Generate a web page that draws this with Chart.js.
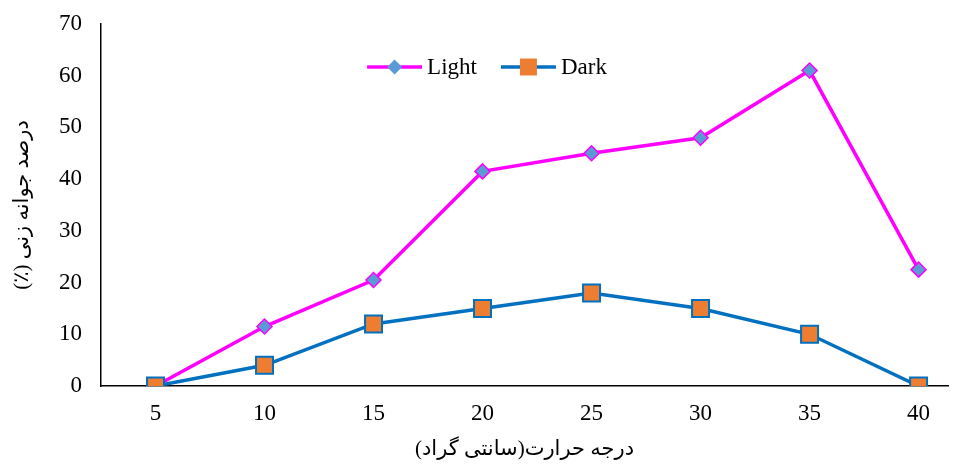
<!doctype html>
<html lang="en">
<head>
  <meta charset="utf-8">
  <title>Germination vs temperature</title>
  <script src="https://cdn.jsdelivr.net/npm/chart.js"></script>
  <style>
    html, body { margin: 0; padding: 0; overflow: hidden; background: #fff; }
    canvas { display: block; }
  </style>
</head>
<body>
  <canvas id="germChart" width="962" height="465"></canvas>

  <script>
    // temperatures (x values) and germination percent per treatment
    const temps = [5, 10, 15, 20, 25, 30, 35, 40];
    const lightVals = [0, 11.5, 20.5, 41.5, 45, 48, 61, 22.5];
    const darkVals = [0, 4, 12, 15, 18, 15, 10, 0];
    const seriesNames = ['Light', 'Dark'];
    const xTitle = 'درجه حرارت(سانتی گراد)';
    const yTitle = '\u2067درصد جوانه زنی (٪)\u2069';

    const serif = "'Liberation Serif', 'Times New Roman', 'DejaVu Sans', serif";

    // legend drawn inside the plot: line + marker like the original
    const lineLegend = {
      id: 'lineLegend',
      afterDraw(chart) {
        const ctx = chart.ctx;
        const area = chart.chartArea;
        const y = area.top + 43;
        ctx.save();
        ctx.font = '23px ' + serif;
        ctx.textBaseline = 'middle';
        const items = chart.data.datasets.map(ds => ({ ds, w: 55 + 5 + ctx.measureText(ds.label).width }));
        const gap = 24;
        const total = items.reduce((s, it) => s + it.w, 0) + gap * (items.length - 1);
        let x = 487 - total / 2;
        items.forEach(it => {
          const ds = it.ds;
          ctx.strokeStyle = ds.borderColor;
          ctx.lineWidth = ds.borderWidth;
          ctx.beginPath();
          ctx.moveTo(x, y);
          ctx.lineTo(x + 55, y);
          ctx.stroke();
          ctx.fillStyle = ds.pointBackgroundColor;
          ctx.strokeStyle = ds.pointBorderColor;
          ctx.lineWidth = ds.pointBorderWidth;
          Chart.helpers.drawPoint(ctx, { pointStyle: ds.pointStyle, radius: ds.pointRadius, rotation: 0 }, x + 27.5, y);
          ctx.fillStyle = '#000';
          ctx.textAlign = 'left';
          ctx.fillText(ds.label, x + 60, y + 1);
          x += it.w + gap;
        });
        ctx.restore();
      }
    };

    const toPoints = vals => vals.map((v, i) => ({ x: temps[i], y: v }));

    const ctx = document.getElementById('germChart').getContext('2d');
    new Chart(ctx, {
      type: 'line',
      data: {
        datasets: [
          {
            label: seriesNames[0],
            data: toPoints(lightVals),
            order: 1,
            borderColor: '#ff00ff',
            borderWidth: 3.5,
            pointStyle: 'rectRot',
            pointRadius: 7.5,
            pointHoverRadius: 7.5,
            pointBackgroundColor: '#5b9bd5',
            pointBorderColor: '#ff00ff',
            pointBorderWidth: 1.5,
            tension: 0
          },
          {
            label: seriesNames[1],
            data: toPoints(darkVals),
            order: 0,
            borderColor: '#0070c0',
            borderWidth: 3.5,
            pointStyle: 'rect',
            pointRadius: 12,
            pointHoverRadius: 12,
            pointBackgroundColor: '#ed7d31',
            pointBorderColor: '#0070c0',
            pointBorderWidth: 2,
            tension: 0
          }
        ]
      },
      options: {
        responsive: false,
        devicePixelRatio: 1,
        animation: false,
        layout: { padding: { top: 24, right: 0, left: 0, bottom: 0 } },
        plugins: {
          legend: { display: false },
          tooltip: { enabled: false }
        },
        scales: {
          x: {
            type: 'linear',
            min: 2.5,
            max: 41.35,
            grid: { display: false, drawTicks: false },
            border: { color: '#000', width: 1.5 },
            ticks: { color: '#000', font: { family: serif, size: 23 }, padding: 14, maxRotation: 0 },
            afterBuildTicks(s) { s.ticks = temps.map(v => ({ value: v })); },
            title: { display: true, text: xTitle, color: '#000', font: { family: serif, size: 21 }, padding: { top: 0, bottom: 3 } },
            afterFit(s) { s.height = 79; s.paddingLeft = 0; s.paddingRight = 0; }
          },
          y: {
            min: 0,
            max: 70,
            grid: { display: false, drawTicks: false },
            border: { color: '#000', width: 1.5 },
            ticks: { stepSize: 10, color: '#000', font: { family: serif, size: 23 }, padding: 19 },
            title: { display: true, text: yTitle, color: '#000', font: { family: serif, size: 21 }, padding: { top: 10, bottom: 0 } },
            afterFit(s) { s.width = 101; s.paddingTop = 0; s.paddingBottom = 0; }
          }
        }
      },
      plugins: [lineLegend]
    });
  </script>
</body>
</html>
